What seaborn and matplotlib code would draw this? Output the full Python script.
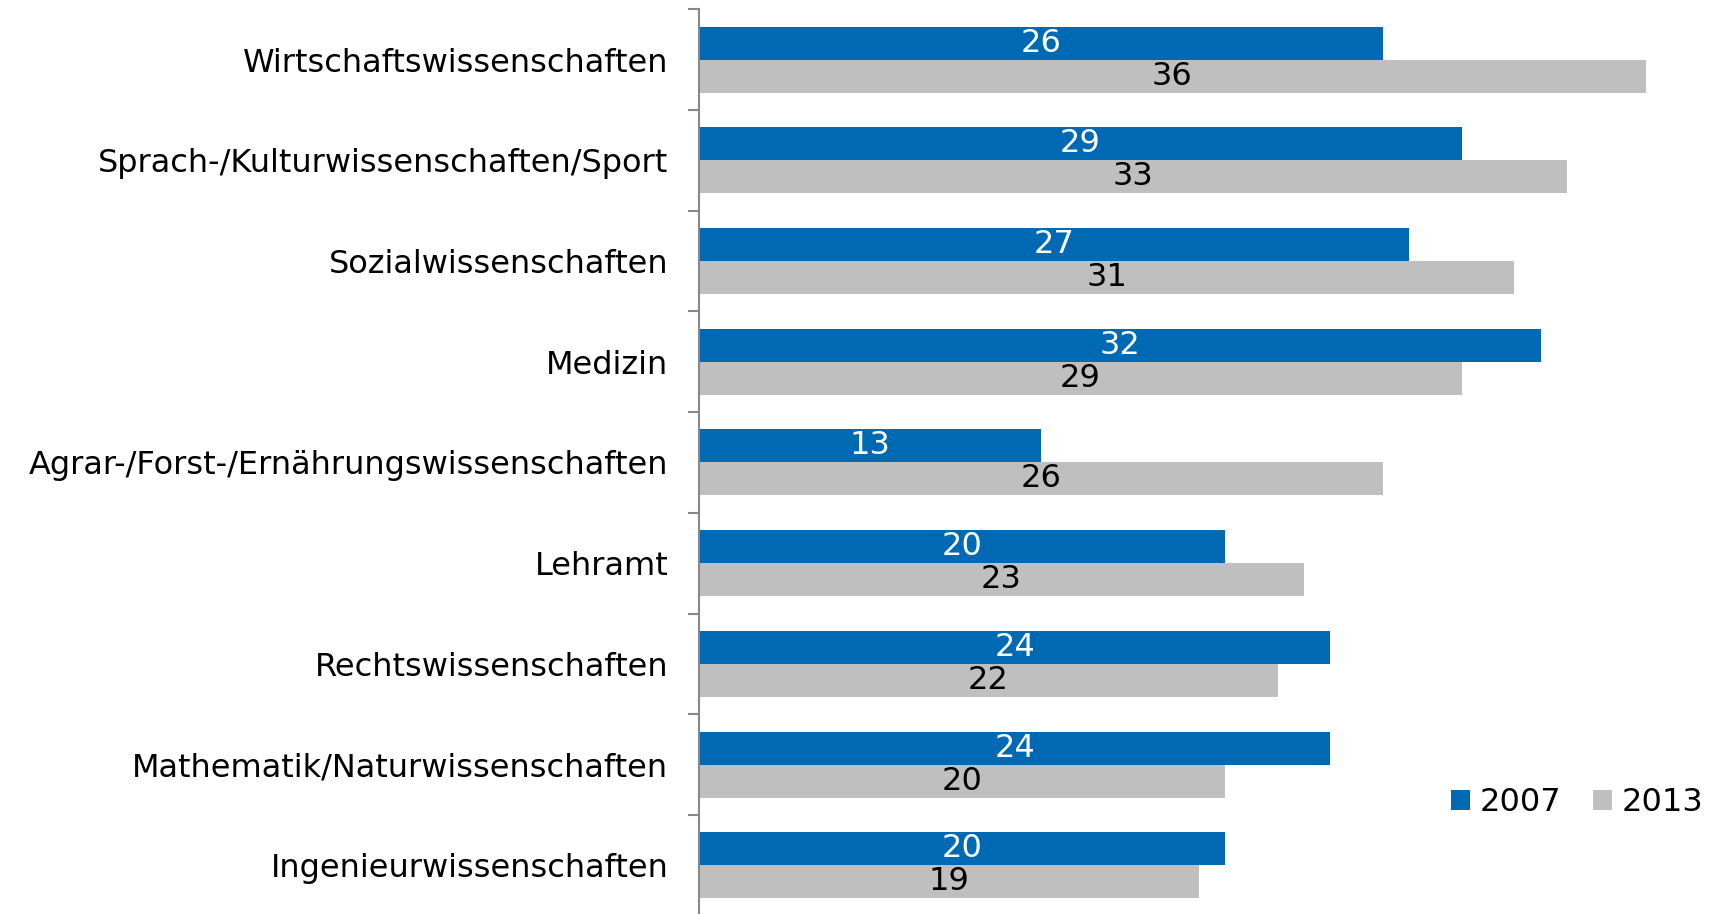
import numpy as np
import pandas as pd
import seaborn as sns
import matplotlib.pyplot as plt

categories = ["Wirtschaftswissenschaften", "Sprach-/Kulturwissenschaften/Sport",
              "Sozialwissenschaften", "Medizin", "Agrar-/Forst-/Ernährungswissenschaften",
              "Lehramt", "Rechtswissenschaften", "Mathematik/Naturwissenschaften",
              "Ingenieurwissenschaften"]
vals_2007 = [26, 29, 27, 32, 13, 20, 24, 24, 20]
vals_2013 = [36, 33, 31, 29, 26, 23, 22, 20, 19]
years = ["2007", "2013"]

df = pd.DataFrame({
    "cat": categories * 2,
    "val": vals_2007 + vals_2013,
    "year": [years[0]] * len(categories) + [years[1]] * len(categories),
})

sns.set_style("white")
plt.rcParams["font.family"] = ["DejaVu Sans"]
plt.rcParams["text.color"] = "black"
plt.rcParams["ytick.color"] = "black"

fig = plt.figure(figsize=(17.13, 9.14), dpi=100)
ax = fig.add_axes([0.408, -0.002, 0.592, 0.992])

sns.barplot(data=df, x="val", y="cat", hue="year", orient="h",
            palette={"2007": "#0069B4", "2013": "#BFBFBF"}, saturation=1,
            width=0.655, linewidth=0, ax=ax, order=categories, hue_order=years)

for cont, col in zip(ax.containers, ["white", "black"]):
    ax.bar_label(cont, label_type="center", color=col, fontsize=23)

ax.set_xlim(0, 38.55)
ax.set_ylim(len(categories) - 0.5, -0.5)
ax.set_xlabel("")
ax.set_ylabel("")
ax.set_xticks([])
ax.tick_params(axis="y", which="major", left=False, length=0, labelsize=23,
               pad=22, labelcolor="black")
ax.set_yticks(np.arange(-0.5, len(categories), 1), minor=True)
ax.tick_params(axis="y", which="minor", left=True, length=8, width=1.5, color="#888888")
for s in ["top", "right", "bottom"]:
    ax.spines[s].set_visible(False)
ax.spines["left"].set_color("#888888")
ax.spines["left"].set_linewidth(1.5)

ax.legend(loc="center right", bbox_to_anchor=(1.019, 0.125), ncol=2, frameon=False,
          fontsize=23, handlelength=0.6, handleheight=0.6, handletextpad=0.3,
          columnspacing=1.0)

fig.savefig("out.png", dpi=100)
